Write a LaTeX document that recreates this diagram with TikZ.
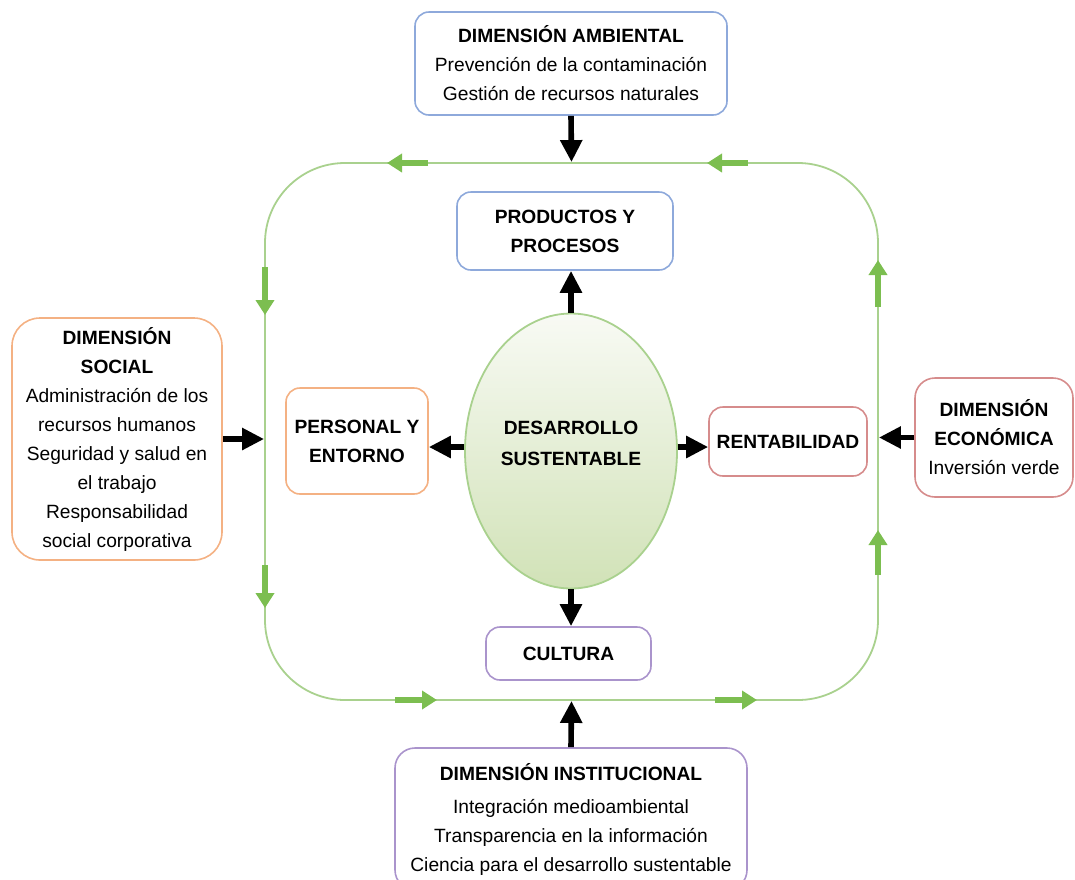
\documentclass[tikz,border=0pt]{standalone}
\usepackage{fontspec}
\setmainfont{Liberation Sans}
\usetikzlibrary{arrows.meta,shapes.geometric}

\definecolor{azul}{RGB}{142,169,219}
\definecolor{naranja}{RGB}{244,177,131}
\definecolor{rojo}{RGB}{214,140,140}
\definecolor{morado}{RGB}{170,148,204}
\definecolor{verde}{RGB}{169,209,142}
\definecolor{verdeflecha}{RGB}{124,190,80}
\definecolor{verdeclaro}{RGB}{248,250,244}
\definecolor{verdeoscuro}{RGB}{209,226,183}

\begin{document}
\begin{tikzpicture}[x=0.5pt,y=-0.5pt,
  caja/.style={draw, rounded corners=7pt, line width=0.8pt, align=center, inner sep=2pt,
    font=\fontsize{9.6}{14.5}\selectfont},
  flecha/.style={line width=2.8pt, -{Triangle[width=10.5pt,length=11pt]}},
  flechaverde/.style={draw=verdeflecha, line width=3pt, -{Triangle[width=9pt,length=7.5pt]}}]

\useasboundingbox (0,0) rectangle (1075,879);

% ciclo verde
\node[draw=verde, line width=0.9pt, rounded corners=40pt, minimum width=306.5pt, minimum height=268.5pt] (ciclo) at (571.5,431.5) {};

% dimensiones
\node[caja, draw=azul, minimum width=156pt, minimum height=51.5pt] (ambiental) at (571,63.5)
  {\textbf{DIMENSIÓN AMBIENTAL}\\Prevención de la contaminación\\Gestión de recursos naturales};
\node[caja, draw=naranja, rounded corners=14pt, minimum width=105pt, minimum height=121pt] (social) at (117,439)
  {\textbf{DIMENSIÓN}\\\textbf{SOCIAL}\\Administración de los\\recursos humanos\\Seguridad y salud en\\el trabajo\\Responsabilidad\\social corporativa};
\node[caja, draw=rojo, rounded corners=10pt, minimum width=79pt, minimum height=59.5pt] (economica) at (994,437.5)
  {\textbf{DIMENSIÓN}\\\textbf{ECONÓMICA}\\Inversión verde};
\node[caja, draw=morado, rounded corners=10pt, minimum width=176pt, minimum height=71pt] (institucional) at (571,819)
  {\textbf{DIMENSIÓN INSTITUCIONAL}\\[2pt]Integración medioambiental\\Transparencia en la información\\Ciencia para el desarrollo sustentable};

% interior
\node[ellipse, draw=verde, line width=0.9pt, top color=verdeclaro, bottom color=verdeoscuro,
  minimum width=106pt, minimum height=137.5pt,
  label={[align=center, yshift=4pt, font=\fontsize{9.6}{15.5}\selectfont\bfseries]center:DESARROLLO\\SUSTENTABLE}] (centro) at (571,451) {};
\node[caja, draw=azul, font=\fontsize{9.6}{14.5}\selectfont\bfseries, minimum width=108pt, minimum height=39pt] (productos) at (565,231)
  {PRODUCTOS Y\\PROCESOS};
\node[caja, draw=naranja, font=\fontsize{9.6}{14.5}\selectfont\bfseries, minimum width=71pt, minimum height=53pt] (personal) at (357,441)
  {PERSONAL Y\\ENTORNO};
\node[caja, draw=rojo, font=\fontsize{9.6}{14.5}\selectfont\bfseries, minimum width=79pt, minimum height=34.5pt] (rentabilidad) at (788,441.5)
  {RENTABILIDAD};
\node[caja, draw=morado, font=\fontsize{9.6}{14.5}\selectfont\bfseries, minimum width=82.5pt, minimum height=26.5pt] (cultura) at (568.5,653.5)
  {CULTURA};

% flechas negras
\draw[flecha] (ambiental.south) -- (ciclo.north);
\draw[flecha] (institucional.north) -- (ciclo.south);
\draw[flecha] (social.east) -- (social.east -| ciclo.west);
\draw[flecha] (economica.west) -- (economica.west -| ciclo.east);
\draw[flecha] (centro.north) -- (centro.north |- productos.south);
\draw[flecha] (centro.south) -- (centro.south |- cultura.north);
\draw[flecha] ([yshift=2pt]centro.west) -- ([yshift=2pt]centro.west -| personal.east);
\draw[flecha] ([yshift=2pt]centro.east) -- ([yshift=2pt]centro.east -| rentabilidad.west);

% flechas verdes del ciclo
\foreach \xa/\ya/\xb/\yb in {428/163/387/163, 748/163/707/163, 265/267/265/315, 265/565/265/608,
  395/700/437/700, 715/700/757/700, 878/307/878/260, 878/575/878/530}
  \draw[flechaverde] (\xa,\ya) -- (\xb,\yb);

\end{tikzpicture}
\end{document}
